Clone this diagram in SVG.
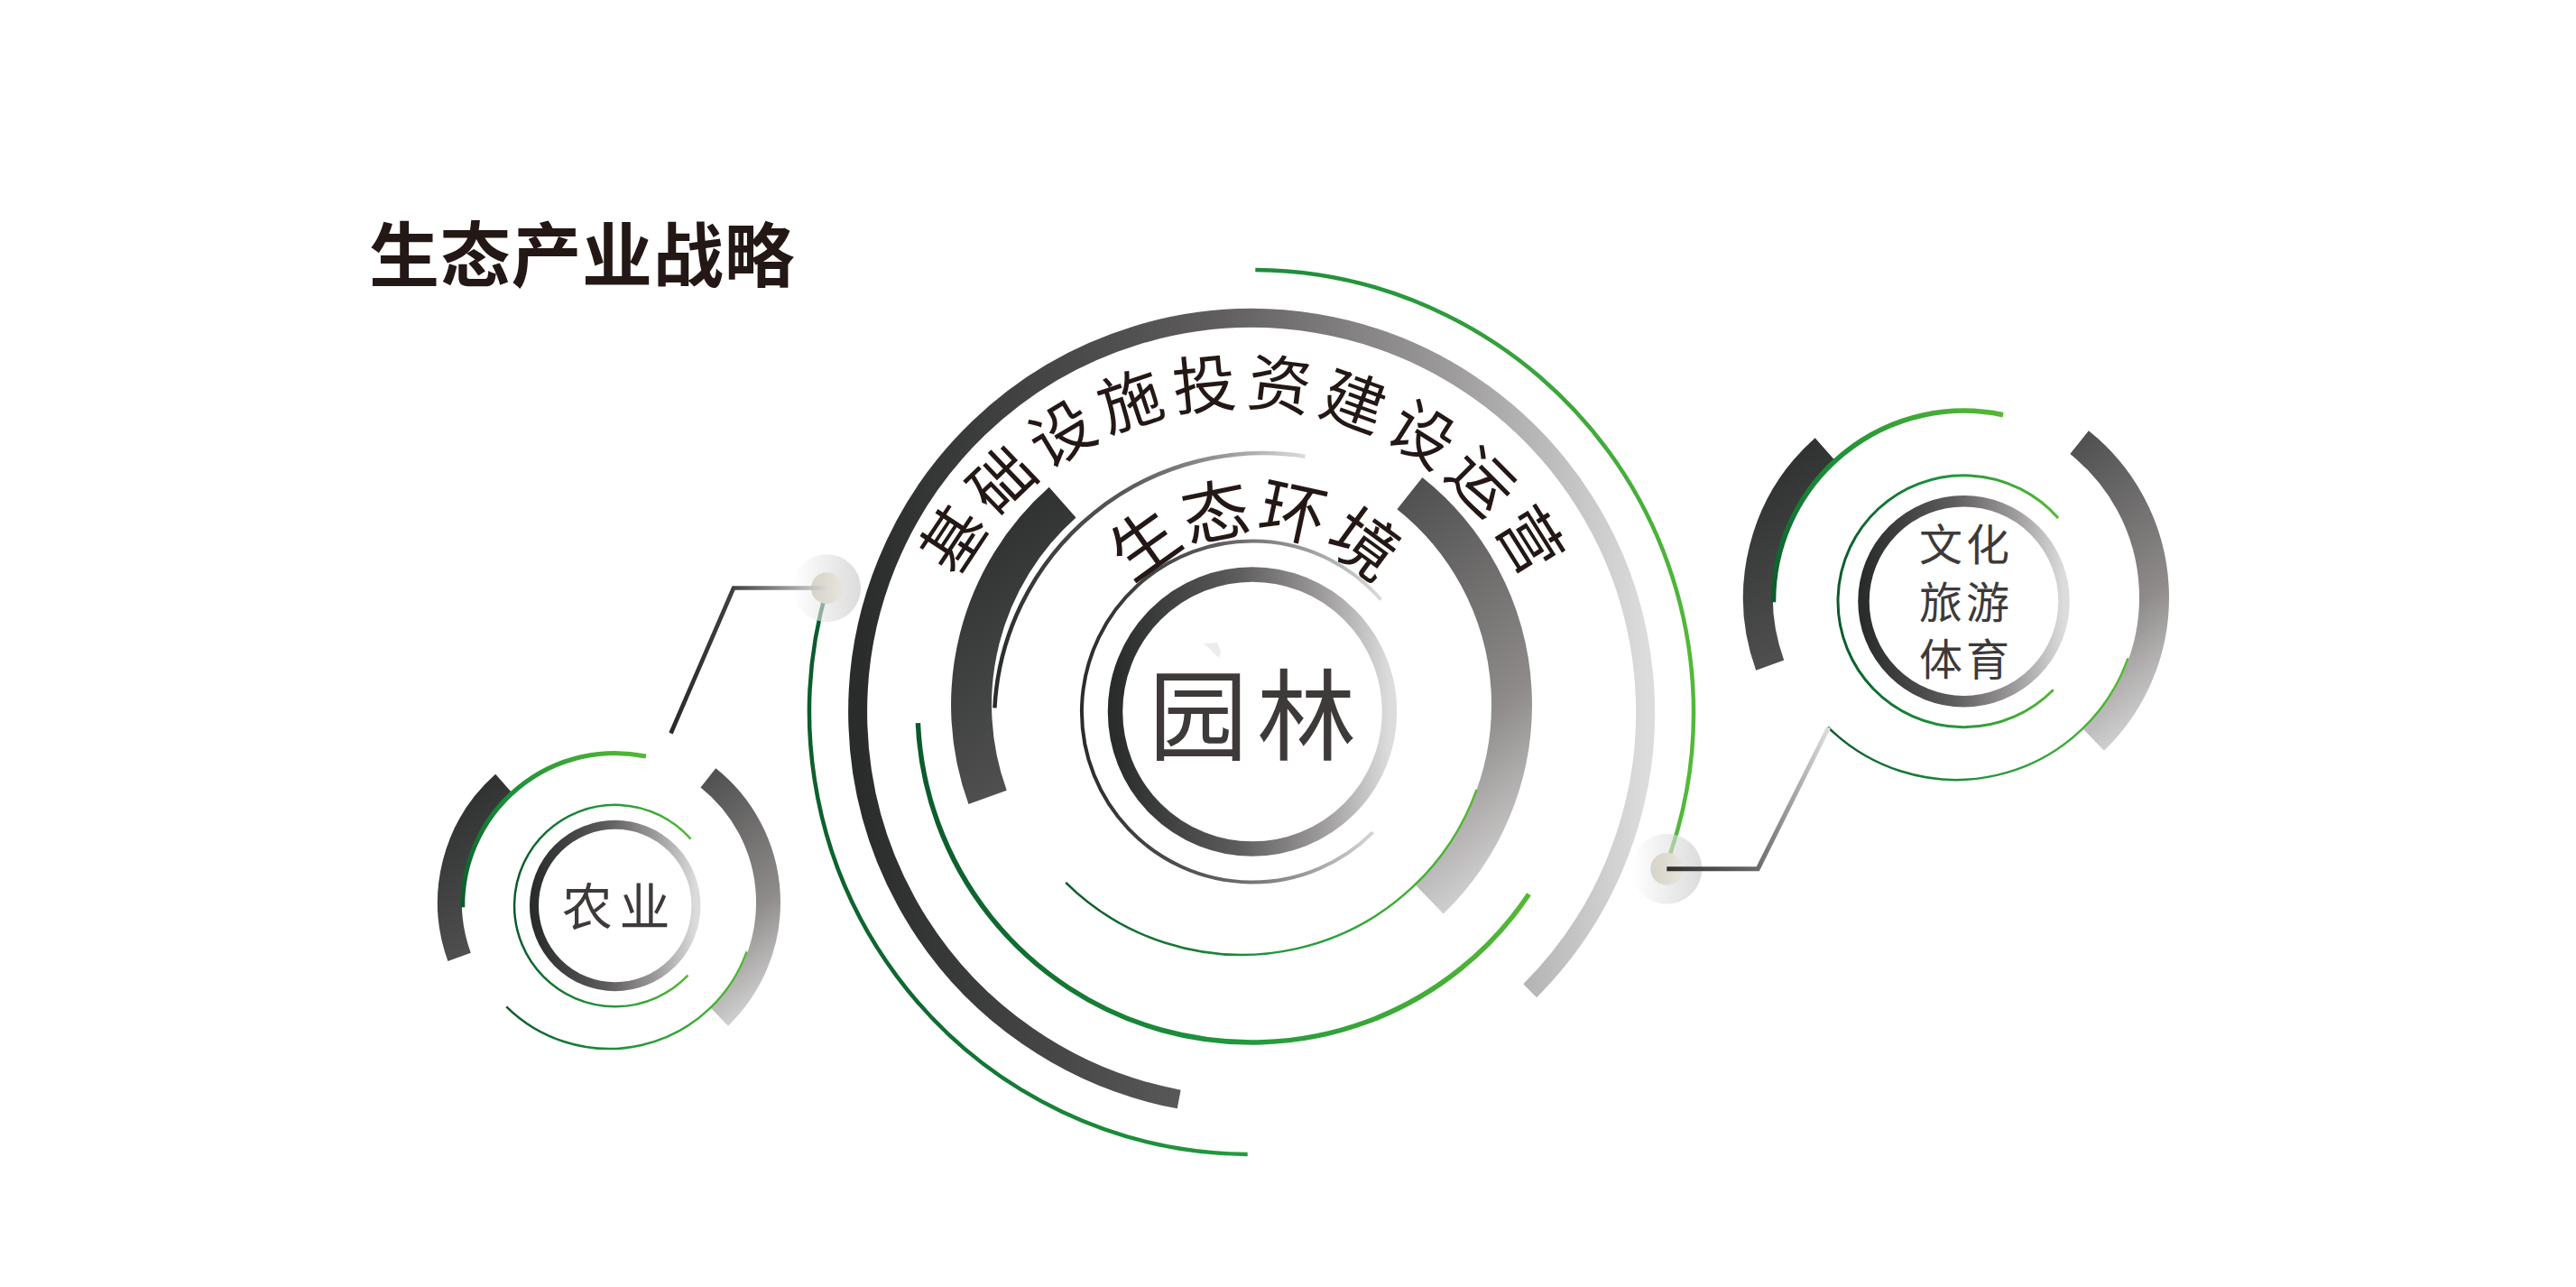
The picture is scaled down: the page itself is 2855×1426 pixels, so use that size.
<svg xmlns="http://www.w3.org/2000/svg" width="2855" height="1426" viewBox="0 0 2855 1426">
<defs>
<style>
.arc{fill:none}
.gray{stroke:url(#gGrayH)}
.piece{stroke:url(#gPiece)}
.green{stroke:url(#gGreenH)}
.greenUp{stroke:url(#gGreenUp)}
.cjk{font-family:"Noto Sans CJK SC","Noto Sans CJK TC",sans-serif}
.label{fill:#3e3a39}
.arcText{fill:#231815;font-size:70px}
.halo{fill:url(#gHalo);fill-opacity:0.6}
.dot{fill:url(#gDot)}
</style>
<linearGradient id="gGrayH" x1="0" y1="0" x2="1" y2="0">
<stop offset="0" stop-color="#2a2c2c"/>
<stop offset="0.45" stop-color="#5e5c5c"/>
<stop offset="0.75" stop-color="#9c9a9a"/>
<stop offset="1" stop-color="#dcdcdc"/>
</linearGradient>
<linearGradient id="gPiece" x1="0" y1="0" x2="1" y2="1">
<stop offset="0" stop-color="#2a2c2c"/>
<stop offset="0.4" stop-color="#505050"/>
<stop offset="0.75" stop-color="#8e8b8a"/>
<stop offset="1" stop-color="#dedede"/>
</linearGradient>
<linearGradient id="gGreenH" x1="0" y1="0" x2="1" y2="0">
<stop offset="0" stop-color="#0b5a2c"/>
<stop offset="0.5" stop-color="#1e963c"/>
<stop offset="1" stop-color="#55b935"/>
</linearGradient>
<linearGradient id="gGreenUp" x1="0" y1="1" x2="1" y2="0">
<stop offset="0" stop-color="#0a5a2c"/>
<stop offset="0.5" stop-color="#1d8f3a"/>
<stop offset="1" stop-color="#55b935"/>
</linearGradient>
<linearGradient id="gGreenR" x1="0" y1="0" x2="1" y2="0.6">
<stop offset="0" stop-color="#1b8c3c"/>
<stop offset="1" stop-color="#52b83a"/>
</linearGradient>
<linearGradient id="gGreenL" x1="0" y1="0" x2="1" y2="1">
<stop offset="0" stop-color="#0b5a2c"/>
<stop offset="0.5" stop-color="#0f6a32"/>
<stop offset="1" stop-color="#229c3e"/>
</linearGradient>
<linearGradient id="gHalo" x1="0" y1="0" x2="1" y2="0">
<stop offset="0" stop-color="#ffffff"/>
<stop offset="1" stop-color="#c4c4c4"/>
</linearGradient>
<linearGradient id="gDot" x1="0" y1="0" x2="1" y2="0">
<stop offset="0" stop-color="#d6d4c8"/>
<stop offset="1" stop-color="#e6e4dc"/>
</linearGradient>
<linearGradient id="gConnL" gradientUnits="userSpaceOnUse" x1="916" y1="0" x2="743" y2="0">
<stop offset="0" stop-color="#d8d8d8"/>
<stop offset="0.6" stop-color="#404040"/>
<stop offset="1" stop-color="#2a2a2a"/>
</linearGradient>
<linearGradient id="gConnR" gradientUnits="userSpaceOnUse" x1="1847" y1="0" x2="2027" y2="0">
<stop offset="0" stop-color="#2e2e2e"/>
<stop offset="0.56" stop-color="#6c6a6a"/>
<stop offset="1" stop-color="#dedede"/>
</linearGradient>
<path id="pOuterText" d="M 1021.6 804 A 354.4 354.4 0 0 1 1730.4 804"/>
<path id="pInnerText" d="M 1209.1 771 A 180.9 180.9 0 0 1 1570.9 771"/>
</defs>

<rect width="2855" height="1426" fill="#ffffff"/>

<text class="cjk" x="409" y="312" font-size="78" font-weight="700" letter-spacing="0.7" fill="#231815">生态产业战略</text>

<g id="node-central">
<path class="arc gray" stroke-width="21" d="M 1306.7 1218.0 A 436.5 436.5 0 1 1 1695.7 1097.7"/>
<path class="arc" stroke="url(#gGreenR)" stroke-width="4.5" d="M 1391.3 299.0 A 490 490 0 0 1 1845.4 962.0"/>
<path class="arc" stroke="url(#gGreenL)" stroke-width="4.5" d="M 916.6 651.9 A 490 490 0 0 0 1382.7 1279.0"/>
<path class="arc piece" stroke-width="45" d="M 1094.6 883.4 A 299.5 299.5 0 0 1 1177.6 556.7 M 1562.4 546.6 A 299.5 299.5 0 0 1 1584.1 996.4"/>
<path class="arc gray" stroke-width="4.5" d="M 1102.4 784.4 A 298 298 0 0 1 1446.6 505.7"/>
<path class="arc green" stroke-width="5.5" d="M 1017.4 801.1 A 370 370 0 0 0 1694.5 990.8"/>
<path class="arc green" stroke-width="2.5" d="M 1181.2 977.9 A 277 277 0 0 0 1636.6 874.8"/>
<path class="arc gray" stroke-width="4" d="M 1530.6 664.5 A 189 189 0 1 0 1521.6 922.1"/>
<circle class="arc gray" cx="1388" cy="788.5" r="152" stroke-width="16.5"/>
<polygon points="1334,713 1349,712 1353,722 1351,729" fill="#ececec"/>
<text class="cjk arcText" text-anchor="middle" letter-spacing="8.5"><textPath href="#pOuterText" startOffset="560.9">基础设施投资建设运营</textPath></text>
<text class="cjk arcText" style="font-size:74px" text-anchor="middle" letter-spacing="1.46"><textPath href="#pInnerText" startOffset="284.9">生态环境</textPath></text>
<text class="cjk label" x="1393" y="834" font-size="110" letter-spacing="10" text-anchor="middle">园林</text>
</g>

<g id="node-culture">
<path class="arc piece" stroke-width="33" d="M 1961.7 737.1 A 219.5 219.5 0 0 1 2022.6 497.6 M 2304.6 490.2 A 219.5 219.5 0 0 1 2320.5 819.9"/>
<path class="arc greenUp" stroke-width="5.5" d="M 1965.5 667.3 A 211 211 0 0 1 2220.0 459.7"/>
<path class="arc green" stroke-width="2.5" d="M 2025.9 805.6 A 202 202 0 0 0 2358.4 729.4"/>
<path class="arc green" stroke-width="3" d="M 2281.1 573.9 A 139.5 139.5 0 1 0 2275.8 764.2"/>
<circle class="arc gray" cx="2176.5" cy="666.2" r="111" stroke-width="12.5"/>
<text class="cjk label" font-size="48" letter-spacing="4" text-anchor="middle"><tspan x="2179" y="621">文化</tspan><tspan x="2179" y="684.5">旅游</tspan><tspan x="2179" y="748">体育</tspan></text>
</g>

<g id="node-agri">
<path class="arc piece" stroke-width="27" d="M 509.1 1060.4 A 176.5 176.5 0 0 1 558.1 867.8 M 784.9 861.9 A 176.5 176.5 0 0 1 797.6 1127.0"/>
<path class="arc greenUp" stroke-width="5" d="M 512.7 1005.3 A 169 169 0 0 1 716.0 838.0"/>
<path class="arc green" stroke-width="2.5" d="M 561.2 1115.3 A 162 162 0 0 0 827.6 1054.4"/>
<path class="arc green" stroke-width="2.5" d="M 765.5 929.6 A 111.7 111.7 0 1 0 762.5 1080.7"/>
<circle class="arc gray" cx="681.7" cy="1003.5" r="89.7" stroke-width="10"/>
<text class="cjk label" x="686.6" y="1025" font-size="56" letter-spacing="7.8" text-anchor="middle">农业</text>
</g>

<g id="connectors">
<circle class="halo" cx="916.5" cy="651.7" r="37.5"/>
<circle class="dot" cx="916.5" cy="651.7" r="17.5"/>
<polyline fill="none" stroke="url(#gConnL)" stroke-width="4.7" stroke-linejoin="miter" points="916,651.5 813,651.5 743.5,812.5"/>
<circle class="halo" cx="1847.3" cy="962.7" r="39"/>
<circle class="dot" cx="1847.3" cy="962.7" r="18"/>
<polyline fill="none" stroke="url(#gConnR)" stroke-width="5" stroke-linejoin="miter" points="1847.3,962.7 1948.3,962.7 2026.7,806"/>
</g>
</svg>
